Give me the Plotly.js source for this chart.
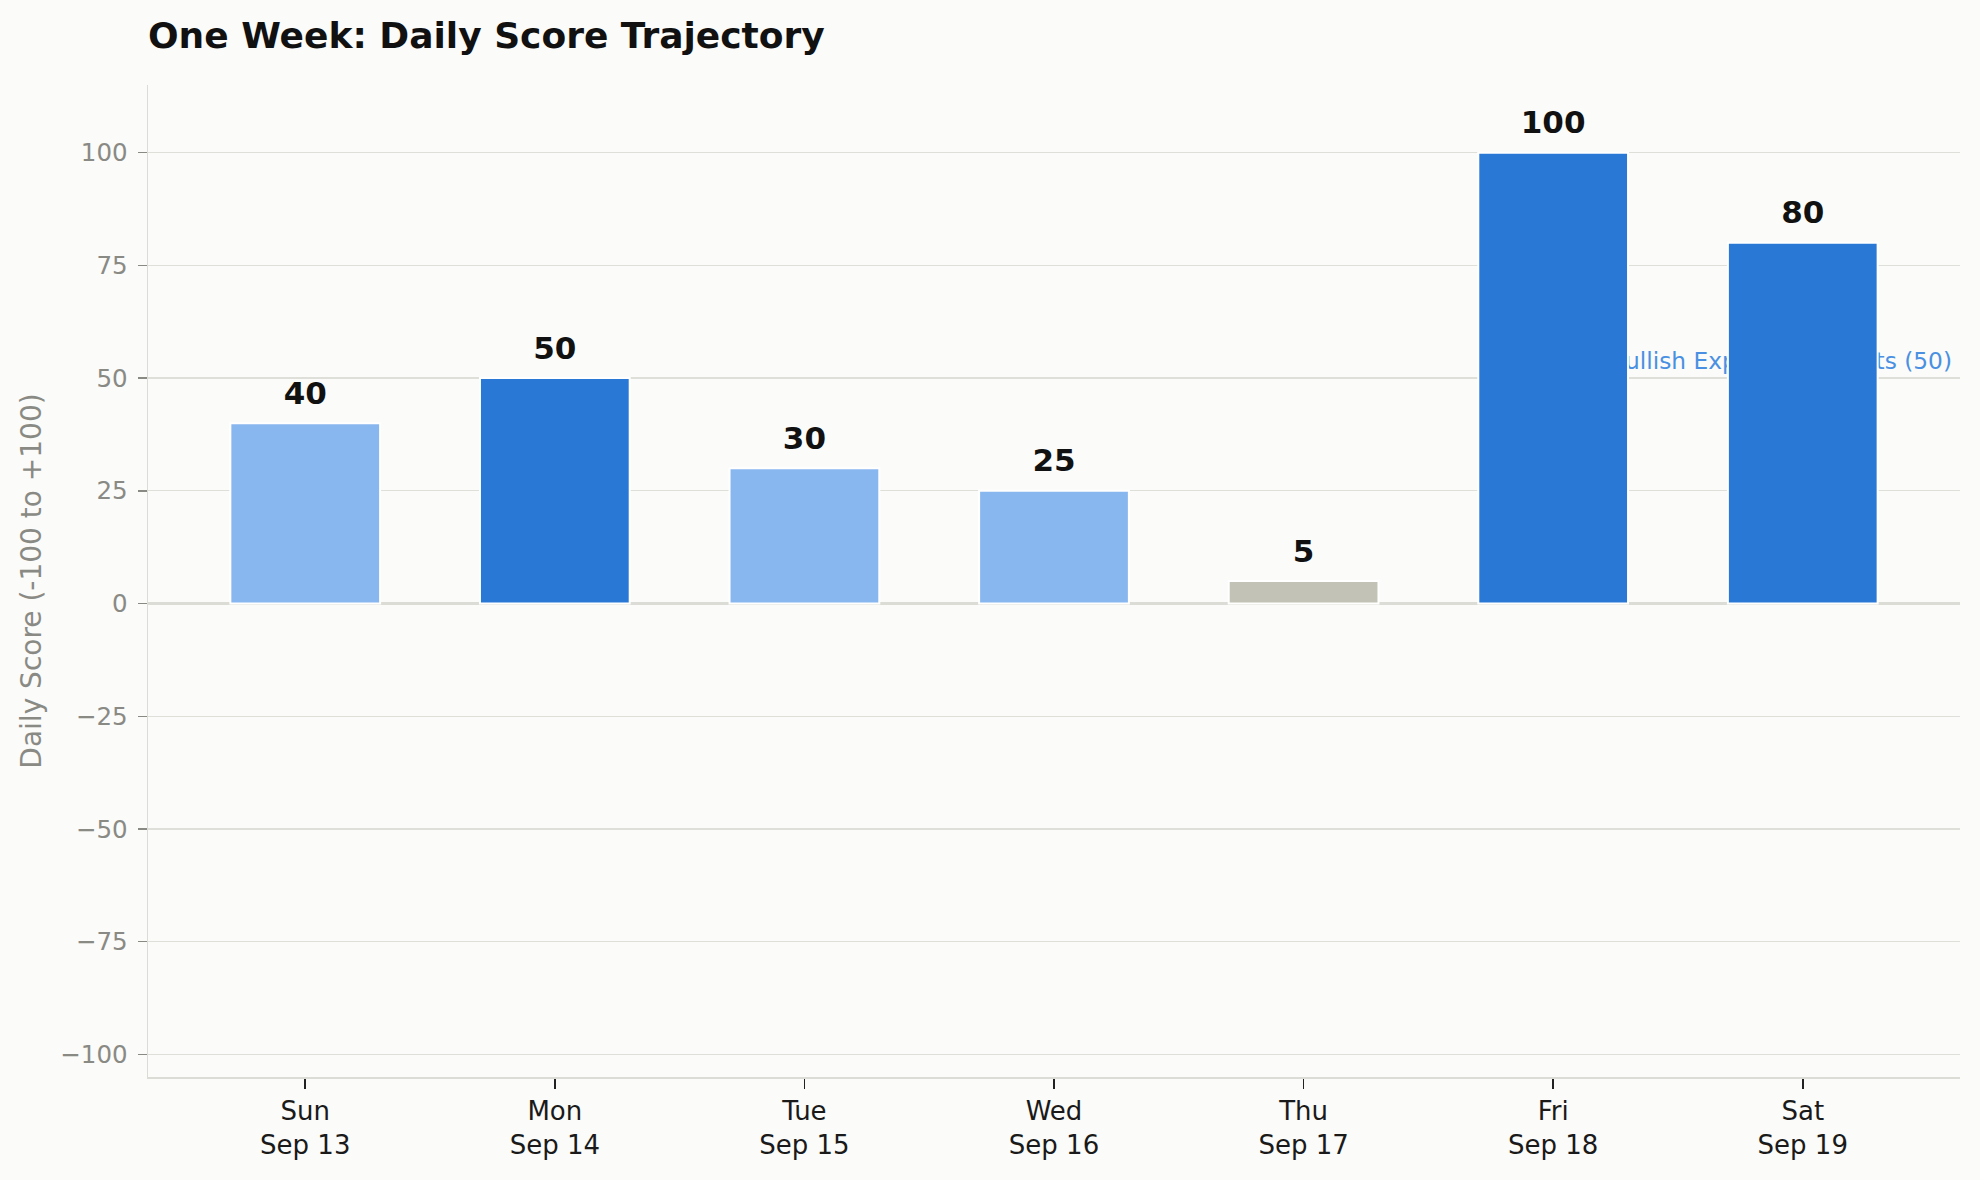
<!DOCTYPE html>
<html>
<head>
<meta charset="utf-8">
<script src="https://cdn.plot.ly/plotly-3.0.1.min.js"></script>
<style>
  body { margin: 0; background: #fbfbf9; }
  #chart { width: 1980px; height: 1180px; }
</style>
</head>
<body>
<div id="chart"></div>
<script>
// ---- data ----
var days = ['Sun', 'Mon', 'Tue', 'Wed', 'Thu', 'Fri', 'Sat'];
var dates = ['Sep 13', 'Sep 14', 'Sep 15', 'Sep 16', 'Sep 17', 'Sep 18', 'Sep 19'];
var scores = [40, 50, 30, 25, 5, 100, 80];
var yTicks = [-100, -75, -50, -25, 0, 25, 50, 75, 100];
var bullishLevel = 50;
var bullishLabel = 'Bullish Expectations Hits (50)';

// ---- helpers ----
var cats = days.map(function (d, i) { return d + '<br>' + dates[i]; });

function colorFor(v) {
  if (v >= 50) return '#2a78d6';
  if (v >= 20) return '#88b6ee';
  return '#c2c2b6';
}

var bars = {
  type: 'bar',
  x: cats,
  y: scores,
  width: 0.6,
  marker: {
    color: scores.map(colorFor),
    line: { color: '#ffffff', width: 2 }
  },
  hoverinfo: 'x+y',
  showlegend: false
};

// value labels sit a little above each bar
var labels = {
  type: 'scatter',
  mode: 'text',
  x: cats,
  y: scores.map(function (v) { return v + 2.6; }),
  text: scores.map(String),
  textposition: 'top center',
  textfont: { family: 'DejaVu Sans', size: 31, color: '#111111', weight: 'bold' },
  cliponaxis: false,
  hoverinfo: 'skip',
  showlegend: false
};

var layout = {
  width: 1980,
  height: 1180,
  paper_bgcolor: '#fbfbf9',
  plot_bgcolor: '#fbfbf9',
  font: { family: 'DejaVu Sans', color: '#1a1a1a' },
  margin: { l: 148, r: 20, t: 85, b: 103 },
  title: {
    text: 'One Week: Daily Score Trajectory',
    font: { family: 'DejaVu Sans', size: 36, color: '#111111', weight: 'bold' },
    xref: 'container', x: 148 / 1980, xanchor: 'left',
    yref: 'container', y: 1 - 35 / 1180, yanchor: 'middle'
  },
  xaxis: {
    type: 'category',
    range: [-0.63, 6.63],
    showgrid: false,
    zeroline: false,
    showline: true,
    linecolor: '#dcdcd6',
    linewidth: 1.5,
    ticks: 'outside',
    ticklen: 10,
    tickwidth: 1.5,
    tickcolor: '#222222',
    tickfont: { size: 26, color: '#1a1a1a' }
  },
  yaxis: {
    range: [-105, 115],
    tickvals: yTicks,
    showgrid: true,
    gridcolor: '#dfdfda',
    gridwidth: 1.3,
    zeroline: true,
    zerolinecolor: '#dcdcd6',
    zerolinewidth: 2.5,
    showline: true,
    linecolor: '#dcdcd6',
    linewidth: 1.5,
    ticks: 'outside',
    ticklen: 9,
    tickwidth: 1.5,
    tickcolor: '#8a8a85',
    ticklabelstandoff: 5,
    tickfont: { size: 24.5, color: '#8a8a85' },
    title: {
      text: 'Daily Score (-100 to +100)',
      font: { size: 28, color: '#8a8a85' },
      standoff: 10
    }
  },
  shapes: [
    {
      // dashed reference level
      type: 'line',
      layer: 'between',
      xref: 'paper', x0: 0, x1: 1,
      yref: 'y', y0: bullishLevel, y1: bullishLevel,
      line: { color: 'rgba(74,144,226,0.45)', width: 1.5, dash: 'dash' }
    },
    {
      // invisible carrier for the label, stops a little short of the right edge
      type: 'line',
      layer: 'between',
      xref: 'paper', x0: 0, x1: 1 - 8 / 1812,
      yref: 'y', y0: bullishLevel, y1: bullishLevel,
      line: { color: 'rgba(0,0,0,0)', width: 0 },
      label: {
        text: bullishLabel,
        textposition: 'end',
        yanchor: 'bottom',
        padding: 5,
        font: { family: 'DejaVu Sans', size: 23.3, color: '#4a90e2' }
      }
    }
  ]
};

Plotly.newPlot('chart', [bars, labels], layout, { displayModeBar: false, staticPlot: true });
</script>
</body>
</html>
